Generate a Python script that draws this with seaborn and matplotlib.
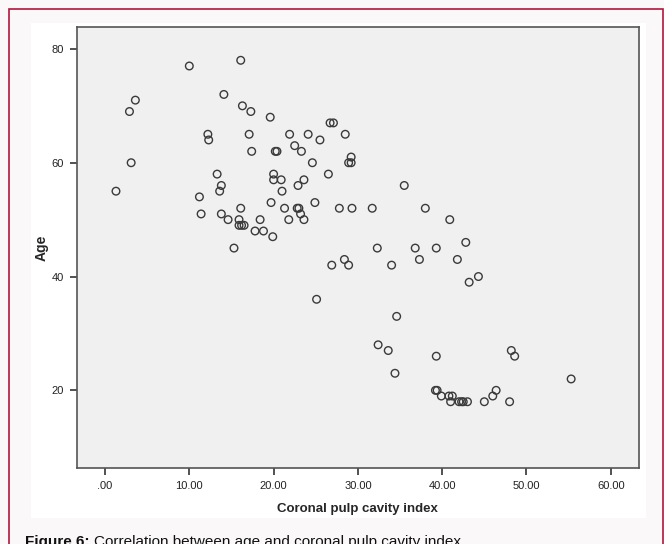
import matplotlib
matplotlib.use("Agg")
import matplotlib.pyplot as plt
from matplotlib.patches import Rectangle
import seaborn as sns
import pandas as pd

# Data
pulp_index = [10.0, 16.1, 3.6, 2.9, 3.1, 1.3, 14.1, 16.3, 17.3, 19.6,
              12.2, 12.3, 17.1, 17.4, 20.2, 20.4, 13.3, 13.8, 13.6, 11.2,
              16.1, 20.0, 20.0, 19.7, 11.4, 13.8, 14.6, 15.9, 15.9, 16.2,
              16.5, 18.4, 17.8, 18.8, 19.9, 15.3, 21.0, 21.3, 21.8, 20.9,
              22.9, 22.8, 23.0, 23.2, 26.7, 27.1, 21.9, 24.1, 28.5, 25.5,
              22.5, 23.3, 29.2, 28.9, 29.2, 24.6, 26.5, 23.6, 35.5, 24.9,
              27.8, 29.3, 31.7, 38.0, 23.6, 40.9, 32.3, 36.8, 39.3, 42.8,
              37.3, 41.8, 26.9, 28.4, 28.9, 34.0, 44.3, 43.2, 25.1, 34.6,
              32.4, 33.6, 39.3, 48.2, 48.6, 34.4, 39.2, 39.4, 39.9, 40.8,
              41.2, 41.0, 42.0, 42.3, 42.5, 43.0, 45.0, 46.4, 46.0, 48.0,
              55.3]
age = [77, 78, 71, 69, 60, 55, 72, 70, 69, 68,
       65, 64, 65, 62, 62, 62, 58, 56, 55, 54,
       52, 58, 57, 53, 51, 51, 50, 50, 49, 49,
       49, 50, 48, 48, 47, 45, 55, 52, 50, 57,
       56, 52, 52, 51, 67, 67, 65, 65, 65, 64,
       63, 62, 61, 60, 60, 60, 58, 57, 56, 53,
       52, 52, 52, 52, 50, 50, 45, 45, 45, 46,
       43, 43, 42, 43, 42, 42, 40, 39, 36, 33,
       28, 27, 26, 27, 26, 23, 20, 20, 19, 19,
       19, 18, 18, 18, 18, 18, 18, 20, 19, 18,
       22]
x_ticks = [0, 10, 20, 30, 40, 50, 60]
x_tick_labels = [".00", "10.00", "20.00", "30.00", "40.00", "50.00", "60.00"]
y_ticks = [20, 40, 60, 80]

df = pd.DataFrame({"Coronal pulp cavity index": pulp_index, "Age": age})

sns.set_style("white")
plt.rcParams["font.family"] = ["Liberation Sans", "DejaVu Sans"]

W, H = 664, 544
fig = plt.figure(figsize=(W / 100, H / 100), dpi=100)
fig.patch.set_facecolor("#fbf8f9")

# outer red frame and white inner panel
fig.patches.append(Rectangle((8.5 / W, -0.05), (W - 10) / W, (H - 8.5) / H + 0.05,
                             transform=fig.transFigure, fill=False,
                             edgecolor="#b3163c", linewidth=1.2, zorder=-5))
fig.patches.append(Rectangle((31 / W, 1 - 517.5 / H), (646 - 31) / W, (517.5 - 23.3) / H,
                             transform=fig.transFigure, facecolor="white",
                             edgecolor="none", zorder=-5))

ax = fig.add_axes([76.7 / W, 1 - 468.3 / H, (639 - 76.7) / W, (468.3 - 27.3) / H])
ax.set_zorder(2)
ax.set_facecolor("#f0f0f0")

sns.scatterplot(data=df, x="Coronal pulp cavity index", y="Age", ax=ax,
                marker="o", s=30, legend=False)
coll = ax.collections[0]
coll.set_facecolor("none")
coll.set_edgecolor("#3a3a3a")
coll.set_linewidth(1.0)

ax.set_xlim(-3.36, 63.35)
ax.set_ylim(6.3, 83.8)
ax.set_xticks(x_ticks)
ax.set_xticklabels(x_tick_labels)
ax.set_yticks(y_ticks)
ax.tick_params(axis="both", direction="out", length=5, width=1.2, color="#333333",
               labelsize=8, labelcolor="#222222", pad=4, bottom=True, left=True)
for sp in ax.spines.values():
    sp.set_color("#555555")
    sp.set_linewidth(1.2)

ax.set_xlabel("Coronal pulp cavity index", fontsize=9.5, fontweight="bold", labelpad=9)
ax.set_ylabel("Age", fontsize=10, fontweight="bold", labelpad=2)

base_y = 1 - 546 / H
t1 = fig.text(25 / W, base_y, "Figure 6:", fontsize=11, fontweight="bold",
              ha="left", va="baseline", color="#111111")
fig.canvas.draw()
bb = t1.get_window_extent()
fig.text((bb.x1 + 4) / W, base_y, "Correlation between age and coronal pulp cavity index",
         fontsize=11, ha="left", va="baseline", color="#111111")

fig.savefig("out.png", dpi=100, facecolor=fig.get_facecolor())
